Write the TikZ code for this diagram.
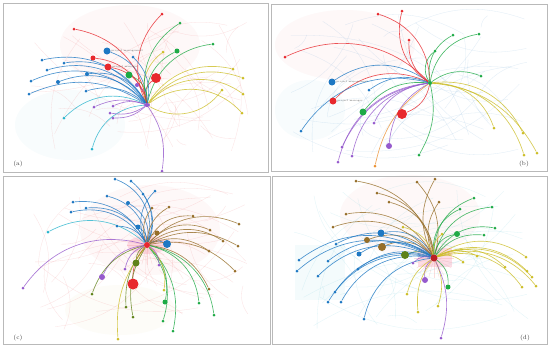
\documentclass[tikz,border=0pt]{standalone}
\usetikzlibrary{backgrounds,shapes.geometric}

\definecolor{vred}{RGB}{232,40,45}
\definecolor{vgreen}{RGB}{30,170,70}
\definecolor{vblue}{RGB}{30,120,195}
\definecolor{vpurple}{RGB}{150,90,205}
\definecolor{vyellow}{RGB}{205,190,40}
\definecolor{vcyan}{RGB}{40,180,205}
\definecolor{vbrown}{RGB}{150,110,40}
\definecolor{volive}{RGB}{95,130,25}
\definecolor{vorange}{RGB}{235,145,50}
\definecolor{vpink}{RGB}{250,160,185}

\tikzset{
  dot/.style={circle, fill=#1, inner sep=0pt, minimum size=3pt},
  edge/.style={draw=#1, line width=0.65pt, opacity=0.8},
  ghost/.style={draw=#1, line width=0.3pt, opacity=0.14},
  panel/.style={draw=gray!55, line width=1pt},
  tag/.style={font=\fontsize{6}{7}\selectfont, text=black!75},
  lbl/.style={font=\fontsize{2.6}{3}\selectfont, text=black!60, inner sep=0.5pt}
}

\begin{document}
\begin{tikzpicture}[x=1pt, y=-1pt]

  \useasboundingbox (0,0) rectangle (550,349);

  % Vage clusters op de achtergrond
  \begin{scope}[on background layer]
    \fill[white] (0,0) rectangle (550,349);
    \fill[vred, opacity=0.03] (130,45) ellipse (70pt and 40pt);
    \fill[vcyan, opacity=0.03] (70,125) ellipse (55pt and 35pt);
    \fill[vred, opacity=0.03] (345,45) ellipse (70pt and 35pt);
    \fill[vcyan, opacity=0.03] (310,110) ellipse (35pt and 30pt);
    \fill[vred, opacity=0.03] (150,230) ellipse (70pt and 45pt);
    \fill[vyellow, opacity=0.03] (120,310) ellipse (55pt and 25pt);
    \fill[vred, opacity=0.03] (410,215) ellipse (70pt and 40pt);
    \fill[vcyan, opacity=0.05] (295,245) rectangle (345,300);

    \pgfmathsetseed{11}
    \foreach \cx/\cy/\rx/\ry/\gc in {140/90/110/70/vred, 410/85/120/70/vblue,
                                     140/260/110/70/vred, 410/260/120/70/vcyan}{
      \foreach \i in {1,...,40}{
        \pgfmathsetmacro\xa{\cx+\rx*rand}
        \pgfmathsetmacro\ya{\cy+\ry*rand}
        \pgfmathsetmacro\xb{\cx+\rx*rand}
        \pgfmathsetmacro\yb{\cy+\ry*rand}
        \draw[ghost=\gc] (\xa,\ya) to[bend left=25] (\xb,\yb);
      }
    }

    % Roze gloed rond de centrale termen
    \fill[vpink, opacity=0.35] (147,245) ellipse (20pt and 9pt);
    \foreach \a in {0,15,...,345}
      \draw[vred!45, line width=0.4pt, opacity=0.35] (147,245) -- ++(\a:20pt);
    \fill[vpink, opacity=0.35] (418,248) rectangle (452,267);
    \foreach \a in {0,15,...,345}
      \draw[vred!45, line width=0.4pt, opacity=0.35] (434,258) -- ++(\a:20pt);
  \end{scope}

  % (a) centrale term
  \node[dot=vpurple, ellipse, minimum width=6pt, minimum height=4pt] (ahub) at (147,105) {};
  \foreach \nm/\x/\y/\c/\s/\b in {
      aredbig/156/78/vred/10/25, agreen/129/75/vgreen/7/-25, ared/108/67/vred/7/-25,
      ablue/107/51/vblue/7/-25, aredb/93/58/vred/5/-25, agreenb/177/51/vgreen/5/25,
      ayel/163/52/vyellow/3/25, apur/137/85/vpurple/4/-20, aredt/162/14/vred/3/25,
      agreent/180/23/vgreen/3/25, aredl/74/29/vred/3/-25, agreenr/213/44/vgreen/3/25,
      ablues/133/57/vblue/3/-20, ablue1/42/60/vblue/3/-25, ablue2/64/63/vblue/3/-25,
      ablue3/47/70/vblue/3/-25, ablue4/87/74/vblue/4/-25, ablue5/31/81/vblue/3/-25,
      ablue6/58/82/vblue/4/-25, ablue7/29/94/vblue/3/-20, ablue8/86/91/vblue/3/-20,
      acyan1/64/118/vcyan/3/-25, acyan2/92/149/vcyan/3/-25, apurb/162/171/vpurple/3/15,
      ayel1/233/69/vyellow/3/25, ayel2/243/78/vyellow/3/25, ayel3/222/90/vyellow/3/-30,
      ayel4/243/94/vyellow/3/30, ayel5/242/113/vyellow/3/30, apur1/94/107/vpurple/3/-15,
      apur2/113/106/vpurple/3/-15, apur3/110/113/vpurple/3/15, apur4/113/118/vpurple/3/15}{
    \node[dot=\c, minimum size=\s pt] (\nm) at (\x,\y) {};
    \pgfmathsetmacro\bb{1.4*\b}
    \begin{pgfonlayer}{background}
      \draw[edge=\c] (ahub) to[bend left=\bb] (\nm);
    \end{pgfonlayer}
  }
  \node[lbl, right] at (ablue.east) {project management};
  \node[lbl, right] at (ared.east) {project manager};

  % (b) centrale term
  \node[dot=vgreen, minimum size=4pt] (bhub) at (430,83) {};
  \foreach \nm/\x/\y/\c/\s/\b in {
      bredbig/402/114/vred/10/20, bgreen/363/112/vgreen/7/-20, bred/333/101/vred/7/-25,
      bblue/332/82/vblue/7/-25, bpur/389/146/vpurple/6/-20, bpurs/374/123/vpurple/3/-20,
      bblues/369/90/vblue/3/-20, bbluel/301/131/vblue/3/-25, bredl/285/57/vred/3/-25,
      bredt1/378/14/vred/3/-25, bredt2/402/11/vred/3/25, bredt3/409/40/vred/3/20,
      bgreen1/435/51/vgreen/3/30, bgreen2/453/35/vgreen/3/25, bgreen3/479/34/vgreen/3/25,
      bgreen4/481/76/vgreen/3/20, bgreen5/419/155/vgreen/3/15, byel1/494/128/vyellow/3/25,
      byel2/523/133/vyellow/3/25, byel3/524/155/vyellow/3/25, byel4/537/153/vyellow/3/20,
      borange/375/166/vorange/3/-15, bpur1/342/147/vpurple/3/-20,
      bpur2/352/156/vpurple/3/-25, bpur3/338/162/vpurple/3/-25}{
    \node[dot=\c, minimum size=\s pt] (\nm) at (\x,\y) {};
    \pgfmathsetmacro\bb{1.4*\b}
    \begin{pgfonlayer}{background}
      \draw[edge=\c] (bhub) to[bend left=\bb] (\nm);
    \end{pgfonlayer}
  }
  \node[lbl, right] at (bblue.east) {project management};
  \node[lbl, right] at (bred.east) {project manager};

  % (c) centrale term
  \node[dot=vred, minimum size=6pt] (chub) at (147,245) {};
  \foreach \nm/\x/\y/\c/\s/\b in {
      cblue/167/244/vblue/8/20, colive/136/263/volive/7/-20, credbig/133/284/vred/11/-15,
      cpur/102/277/vpurple/6/-20, cbrown/157/233/vbrown/5/25, cbluem/138/227/vblue/5/-20,
      cbluet/128/203/vblue/4/-25, cblue1/115/179/vblue/3/-30, cblue2/131/181/vblue/3/-25,
      cblue3/155/191/vblue/3/25, cblue4/143/194/vblue/3/-20, cblue5/107/196/vblue/3/-25,
      cblue6/73/202/vblue/3/-25, cblue7/86/208/vblue/3/-25, cblue8/71/212/vblue/3/-25,
      cblue9/117/226/vblue/3/-20, cbrownt/152/208/vbrown/3/20, ccyan/48/232/vcyan/3/-25,
      ccyanl/23/288/vpurple/3/-25, cbrown1/193/216/vbrown/3/25, cbrown2/169/207/vbrown/3/20,
      cbrown3/239/224/vbrown/3/25, cbrown4/210/230/vbrown/3/25, cbrown5/223/241/vbrown/3/25,
      cbrown6/238/246/vbrown/3/20, cbrown7/209/251/vbrown/3/20, cbrown8/235/271/vbrown/3/20,
      cbrown9/209/289/vbrown/3/20, cgreen1/92/294/volive/3/-20, cgreen2/165/302/vgreen/5/20,
      cgreen3/199/303/vgreen/3/25, cgreen4/214/315/vgreen/3/25, cgreen5/163/321/vgreen/3/20,
      cgreen6/173/331/vgreen/3/20, cgreen7/126/307/volive/3/-15, cgreen8/133/317/volive/3/-15,
      cyel1/164/290/vyellow/3/20, cyel2/118/339/vyellow/3/-15, cpur1/125/269/vpurple/3/-20,
      cpur2/159/265/vpurple/3/20}{
    \node[dot=\c, minimum size=\s pt] (\nm) at (\x,\y) {};
    \pgfmathsetmacro\bb{1.4*\b}
    \begin{pgfonlayer}{background}
      \draw[edge=\c] (chub) to[bend left=\bb] (\nm);
    \end{pgfonlayer}
  }

  % (d) centrale term
  \node[dot=vred!80!black, minimum size=7pt] (dhub) at (434,258) {};
  \foreach \nm/\x/\y/\c/\s/\b in {
      dolive/405/255/volive/8/-20, dbrown1/382/247/vbrown/8/-25, dbrown2/367/240/vbrown/6/-25,
      dblue/381/233/vblue/7/-25, dpur/425/280/vpurple/6/-20, dgreen/457/234/vgreen/6/25,
      dgreenb/448/287/vgreen/5/20, dbluem/359/254/vblue/5/-25, dblue1/328/261/vblue/3/-25,
      dblue2/336/244/vblue/3/-25, dblue3/299/260/vblue/3/-25, dblue4/297/271/vblue/3/-25,
      dblue5/318/276/vblue/3/-25, dblue6/335/292/vblue/3/-25, dblue7/328/302/vblue/3/-25,
      dblue8/341/302/vblue/3/-25, dblue9/364/319/vblue/3/-25, dblue10/358/269/vblue/3/-20,
      dbrownt1/356/181/vbrown/3/-25, dbrownt2/377/193/vbrown/3/-25, dbrownt3/389/202/vbrown/3/-25,
      dbrownt4/435/179/vbrown/3/20, dbrownt5/417/182/vbrown/3/-20, dbrownt6/439/202/vbrown/3/20,
      dbrownt7/346/214/vbrown/3/-25, dbrownt8/333/227/vbrown/3/-25, dgreen1/474/198/vgreen/3/25,
      dgreen2/460/209/vgreen/3/25, dgreen3/492/207/vgreen/3/25, dgreen4/495/228/vgreen/3/25,
      dgreen5/484/235/vgreen/3/20, dyel1/403/227/vyellow/3/-20, dyel2/442/234/vyellow/3/20,
      dyel3/477/256/vyellow/3/20, dyel4/526/257/vyellow/3/25, dyel5/505/267/vyellow/3/25,
      dyel6/527/271/vyellow/3/25, dyel7/532/277/vyellow/3/25, dyel8/536/286/vyellow/3/25,
      dyel9/522/287/vyellow/3/25, dyel10/407/294/vyellow/3/-15, dyel11/418/312/vyellow/3/-15,
      dyel12/438/306/vyellow/3/15, dyel13/463/262/vyellow/3/20, dpur1/413/263/vpurple/3/-20,
      dpur2/441/338/vpurple/3/15}{
    \node[dot=\c, minimum size=\s pt] (\nm) at (\x,\y) {};
    \pgfmathsetmacro\bb{1.4*\b}
    \begin{pgfonlayer}{background}
      \draw[edge=\c] (dhub) to[bend left=\bb] (\nm);
    \end{pgfonlayer}
  }

  % Kaders en letters
  \draw[panel] (3,3) rectangle (268,172);
  \draw[panel] (271,4) rectangle (547,171);
  \draw[panel] (3,176) rectangle (270,344);
  \draw[panel] (272,176) rectangle (547,344);

  \node[tag] (taga) at (18,164) {(a)};
  \node[tag] (tagb) at (524,164) {(b)};
  \node[tag] (tagc) at (18,338) {(c)};
  \node[tag] (tagd) at (525,338) {(d)};

\end{tikzpicture}
\end{document}
